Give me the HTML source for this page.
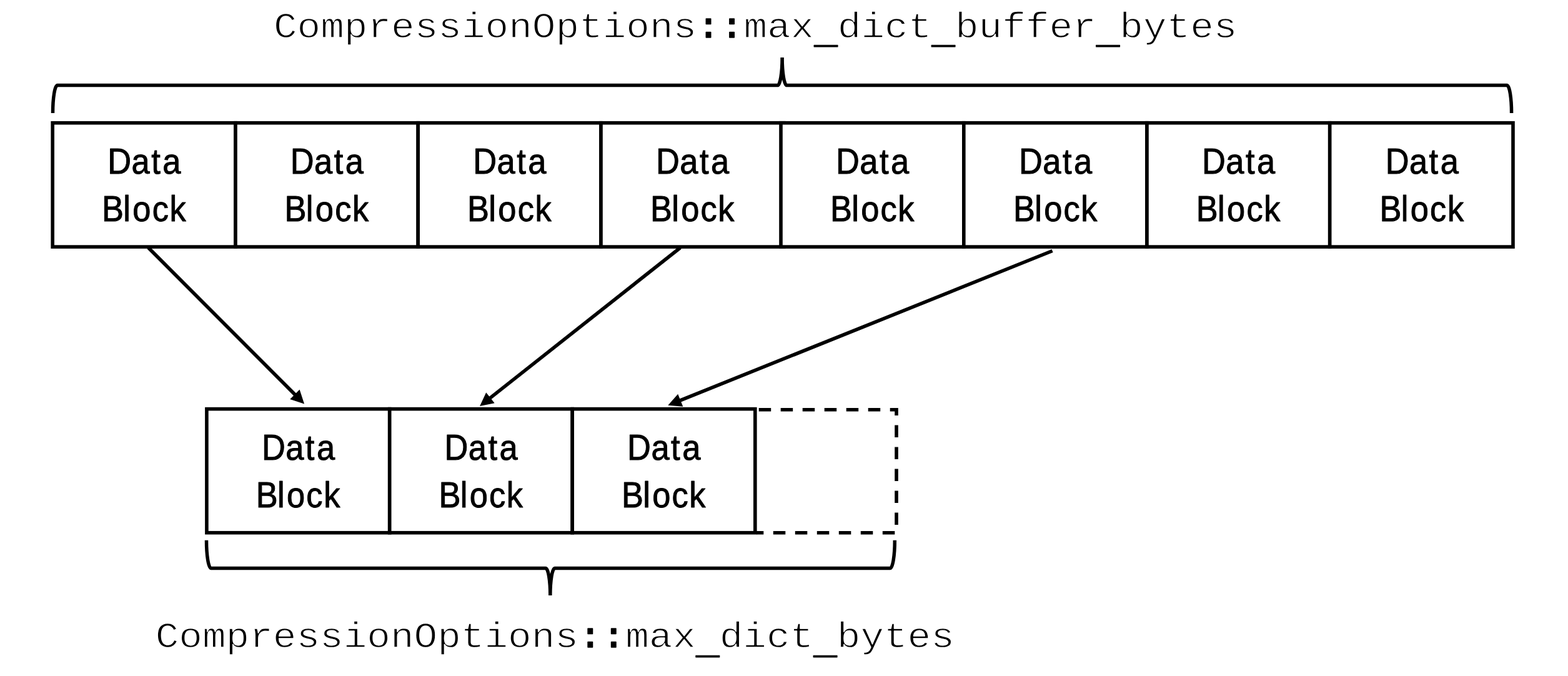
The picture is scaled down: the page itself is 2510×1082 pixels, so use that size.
<!DOCTYPE html>
<html lang="en">
<head>
<meta charset="utf-8">
<title>Dictionary compression buffer diagram</title>
<style>
html,body{margin:0;padding:0;background:#fff;}
body{width:2510px;height:1082px;overflow:hidden;}
svg{display:block;}
.bx rect{fill:#fff;stroke:#000;stroke-width:5.6;}
.d{fill:none;stroke:#000;stroke-width:5.6;stroke-dasharray:19.5 15.5;}
.ar line{stroke:#000;stroke-width:5.6;}
.h{fill:#000;}
.b{fill:none;stroke:#000;stroke-width:5.5;stroke-linejoin:miter;stroke-miterlimit:20;}
.s{font-family:"Liberation Sans",sans-serif;font-size:57px;fill:#000;stroke:#000;stroke-width:1.0;stroke-linejoin:round;}
.m{font-family:"Liberation Mono",monospace;font-size:57px;text-anchor:middle;fill:#000;stroke:#fff;stroke-width:1.3;stroke-linejoin:round;}
.u{stroke:#000;stroke-width:1;}
.c{stroke:#000;stroke-width:1.6;}
</style>
</head>
<body>
<svg width="2510" height="1082" viewBox="0 0 2510 1082">
<rect x="0" y="0" width="2510" height="1082" fill="#fff"/>
<g class="bx">
<rect x="84.2" y="196.7" width="292.8" height="198.4"/>
<rect x="377" y="196.7" width="292.2" height="198.4"/>
<rect x="669.2" y="196.7" width="292.8" height="198.4"/>
<rect x="962" y="196.7" width="292.8" height="198.4"/>
<rect x="1250" y="196.7" width="292.8" height="198.4"/>
<rect x="1542.8" y="196.7" width="293.2" height="198.4"/>
<rect x="1836" y="196.7" width="292.7" height="198.4"/>
<rect x="2128.7" y="196.7" width="293.3" height="198.4"/>
<rect x="330.9" y="654.6" width="292.8" height="198.1"/>
<rect x="623.7" y="654.6" width="292.5" height="198.1"/>
<rect x="916.2" y="654.6" width="292.6" height="198.1"/>
</g>
<path class="d" d="M1214.7 655.7H1435V852.7H1211"/>
<g>
<text class="s" transform="translate(230.6 0) scale(0.92 1)"><tspan x="-63.48 -21.88 12.57 32.25" y="278.2">Data</tspan><tspan x="-73.37 -36.18 -19.87 14.2 44.38" y="353.7">Block</tspan></text>
<text class="s" transform="translate(523.1 0) scale(0.92 1)"><tspan x="-63.48 -21.88 12.57 32.25" y="278.2">Data</tspan><tspan x="-73.37 -36.18 -19.87 14.2 44.38" y="353.7">Block</tspan></text>
<text class="s" transform="translate(815.6 0) scale(0.92 1)"><tspan x="-63.48 -21.88 12.57 32.25" y="278.2">Data</tspan><tspan x="-73.37 -36.18 -19.87 14.2 44.38" y="353.7">Block</tspan></text>
<text class="s" transform="translate(1108.4 0) scale(0.92 1)"><tspan x="-63.48 -21.88 12.57 32.25" y="278.2">Data</tspan><tspan x="-73.37 -36.18 -19.87 14.2 44.38" y="353.7">Block</tspan></text>
<text class="s" transform="translate(1396.4 0) scale(0.92 1)"><tspan x="-63.48 -21.88 12.57 32.25" y="278.2">Data</tspan><tspan x="-73.37 -36.18 -19.87 14.2 44.38" y="353.7">Block</tspan></text>
<text class="s" transform="translate(1689.4 0) scale(0.92 1)"><tspan x="-63.48 -21.88 12.57 32.25" y="278.2">Data</tspan><tspan x="-73.37 -36.18 -19.87 14.2 44.38" y="353.7">Block</tspan></text>
<text class="s" transform="translate(1982.35 0) scale(0.92 1)"><tspan x="-63.48 -21.88 12.57 32.25" y="278.2">Data</tspan><tspan x="-73.37 -36.18 -19.87 14.2 44.38" y="353.7">Block</tspan></text>
<text class="s" transform="translate(2276.05 0) scale(0.92 1)"><tspan x="-63.48 -21.88 12.57 32.25" y="278.2">Data</tspan><tspan x="-73.37 -36.18 -19.87 14.2 44.38" y="353.7">Block</tspan></text>
<text class="s" transform="translate(477.3 0) scale(0.92 1)"><tspan x="-63.48 -21.88 12.57 32.25" y="736.1">Data</tspan><tspan x="-73.37 -36.18 -19.87 14.2 44.38" y="811.6">Block</tspan></text>
<text class="s" transform="translate(769.95 0) scale(0.92 1)"><tspan x="-63.48 -21.88 12.57 32.25" y="736.1">Data</tspan><tspan x="-73.37 -36.18 -19.87 14.2 44.38" y="811.6">Block</tspan></text>
<text class="s" transform="translate(1062.5 0) scale(0.92 1)"><tspan x="-63.48 -21.88 12.57 32.25" y="736.1">Data</tspan><tspan x="-73.37 -36.18 -19.87 14.2 44.38" y="811.6">Block</tspan></text>
</g>
<g class="ar">
<line x1="237.5" y1="396.5" x2="472.62" y2="631.99"/><polygon class="h" points="487.1,646.5 464.23,638.95 479.59,623.62"/>
<line x1="1089" y1="396.5" x2="784.13" y2="637.39"/><polygon class="h" points="768.05,650.1 778.19,628.26 791.65,645.28"/>
<line x1="1684.6" y1="401.5" x2="1088.32" y2="641.16"/><polygon class="h" points="1069.3,648.8 1085.2,630.71 1093.3,650.85"/>
</g>
<path class="b" d="M84.5 181C84.5 156.48 87.77 136.6 91.8 136.6H1244.8C1248.83 136.6 1252.1 116.63 1252.1 92C1252.1 116.63 1255.37 136.6 1259.4 136.6H2412.3C2416.33 136.6 2419.6 156.48 2419.6 181"/>
<path class="b" d="M330.5 864.8C330.5 889.49 333.77 909.5 337.8 909.5H873.5C877.53 909.5 880.8 928.97 880.8 953C880.8 928.97 884.07 909.5 888.1 909.5H1425C1429.03 909.5 1432.3 889.49 1432.3 864.8"/>
<text class="m" transform="translate(1209.2 59.5) scale(1.1001 1)" x="0" y="0">CompressionOptions<tspan class="c">::</tspan>max<tspan class="u" dy="9.9">_</tspan><tspan dy="-9.9">dict</tspan><tspan class="u" dy="9.9">_</tspan><tspan dy="-9.9">buffer</tspan><tspan class="u" dy="9.9">_</tspan><tspan dy="-9.9">bytes</tspan></text>
<text class="m" transform="translate(888.3 1035.6) scale(1.1001 1)" x="0" y="0">CompressionOptions<tspan class="c">::</tspan>max<tspan class="u" dy="9.9">_</tspan><tspan dy="-9.9">dict</tspan><tspan class="u" dy="9.9">_</tspan><tspan dy="-9.9">bytes</tspan></text>
</svg>
</body>
</html>
